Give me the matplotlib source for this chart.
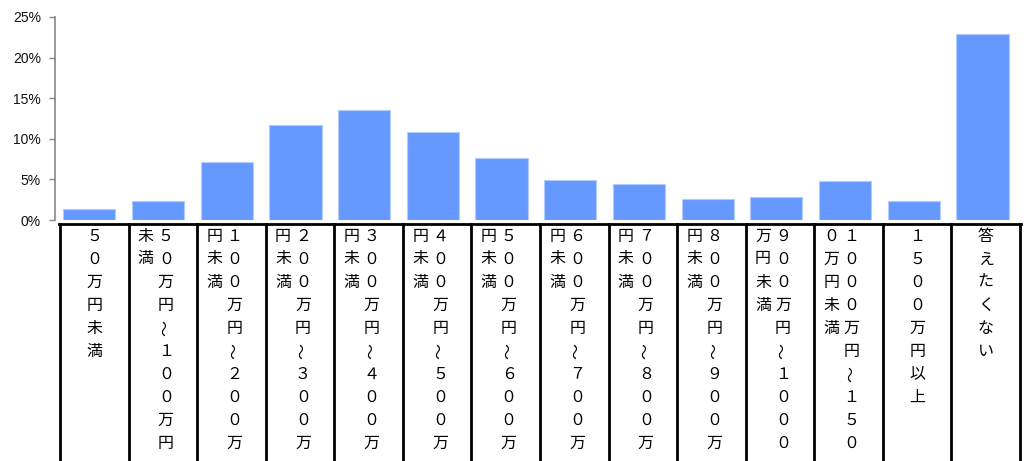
import matplotlib
matplotlib.use("Agg")
import matplotlib.pyplot as plt
from matplotlib.lines import Line2D

categories = [
    "５０万円未満",
    "５０万円～１００万円未満",
    "１００万円～２００万円未満",
    "２００万円～３００万円未満",
    "３００万円～４００万円未満",
    "４００万円～５００万円未満",
    "５００万円～６００万円未満",
    "６００万円～７００万円未満",
    "７００万円～８００万円未満",
    "８００万円～９００万円未満",
    "９００万円～１０００万円未満",
    "１０００万円～１５００万円未満",
    "１５００万円以上",
    "答えたくない",
]
values = [1.35, 2.35, 7.2, 11.7, 13.6, 10.8, 7.6, 4.95, 4.4, 2.55, 2.85, 4.75, 2.35, 22.95]
yticks = [0, 5, 10, 15, 20, 25]
ytick_labels = ["0%", "5%", "10%", "15%", "20%", "25%"]

W, H = 1027, 461
fig = plt.figure(figsize=(W / 100, H / 100), dpi=100)

# axes placement in pixels
ax_left, ax_right = 55, 1016.8
ax_top, ax_bottom = 17, 220
ax = fig.add_axes([ax_left / W, 1 - ax_bottom / H, (ax_right - ax_left) / W, (ax_bottom - ax_top) / H])

n = len(categories)
x = list(range(n))
ax.bar(x, values, width=0.76, color="#6699ff", edgecolor="#b3ccff", linewidth=0.8)
ax.set_xlim(-0.5, n - 0.5)
ax.set_ylim(0, 25)
ax.set_yticks(yticks)
ax.set_yticklabels(ytick_labels, fontfamily="Liberation Sans", fontsize=10, color="#111111")
ax.tick_params(axis="y", length=4.3, width=1.0, color="#888888", pad=5.8)
ax.tick_params(axis="x", length=0, labelbottom=False)
for s in ["top", "right", "bottom"]:
    ax.spines[s].set_visible(False)
ax.spines["left"].set_color("#888888")
ax.spines["left"].set_linewidth(1.2)

# table of vertical labels below the axes (figure pixel coordinates)
def fx(px):
    return px / W

def fy(py):
    return 1 - py / H

tbl_left, tbl_right, tbl_top = 60, 1020, 224
cell_w = (tbl_right - tbl_left) / n
fig.add_artist(Line2D([fx(tbl_left - 1), fx(tbl_right + 1)], [fy(tbl_top), fy(tbl_top)],
                      color="black", linewidth=2.0, transform=fig.transFigure))
for k in range(n + 1):
    xp = tbl_left + k * cell_w
    fig.add_artist(Line2D([fx(xp), fx(xp)], [fy(tbl_top), fy(H + 2)],
                          color="black", linewidth=2.0, transform=fig.transFigure))

row_pitch = 23
first_row = 236
per_col = 10
jp_font = ["Noto Sans CJK JP", "DejaVu Sans"]
for k, label in enumerate(categories):
    cols = [label[i:i + per_col] for i in range(0, len(label), per_col)]
    cx = tbl_left + (k + 0.5) * cell_w
    if len(cols) == 1:
        col_x = [cx]
    else:
        col_x = [cx + 3, cx - 17]
    for ci, col in enumerate(cols):
        for ri, ch in enumerate(col):
            rot = 90 if ch == "～" else 0
            fig.text(fx(col_x[ci]), fy(first_row + ri * row_pitch), ch,
                     ha="center", va="center", fontsize=11.5, family=jp_font,
                     rotation=rot, color="black")

fig.savefig("out.png", dpi=100)
